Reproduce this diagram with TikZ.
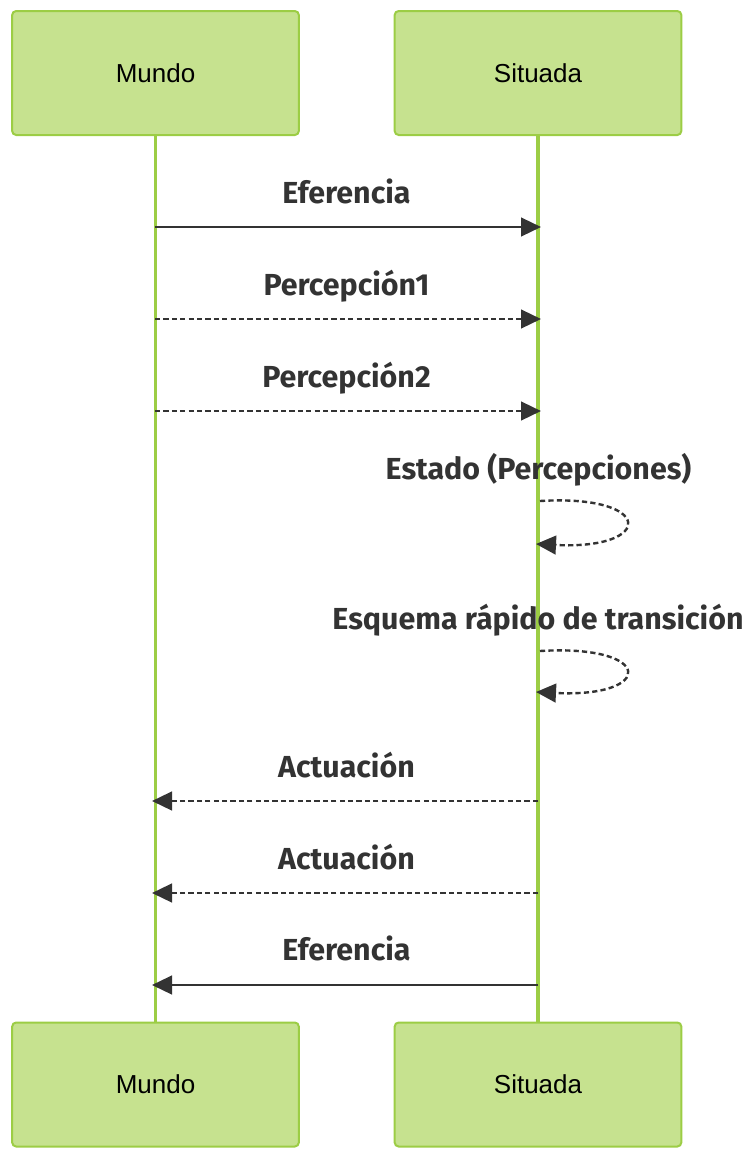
\documentclass[tikz,border=0pt]{standalone}
\usepackage{fontspec}
\setmainfont{Liberation Sans}
\newfontfamily\msgfont{Fira Sans}
\usepackage{tikz}
\usetikzlibrary{arrows.meta,positioning}
\definecolor{sqfill}{HTML}{C6E28F}
\definecolor{sqline}{HTML}{9CCD45}
\definecolor{sqink}{HTML}{333333}
\tikzset{
sqactor/.style={rectangle,rounded corners=3pt,draw=sqline,line width=1.5pt,fill=sqfill,align=center,inner sep=0pt,minimum width=215pt,minimum height=93pt,font=\fontsize{19.5}{23}\selectfont},
sqlife/.style={draw=sqline,line width=2.6pt},
sqmsg/.style={draw=sqink,line width=1.8pt,-{Triangle[length=15pt,width=14pt]},color=sqink},
sqreply/.style={sqmsg,dash pattern=on 3.9pt off 2.4pt},
sqlabel/.style={text=sqink,font=\msgfont\bfseries\fontsize{22.8}{27}\selectfont,inner sep=0pt,anchor=base}
}
\begin{document}
\begin{tikzpicture}[x=0.75pt,y=-0.75pt]
\useasboundingbox (0,0) rectangle (752,1157);
\node[sqactor] (mundoTop) at (155.5,73) {Mundo};
\node[sqactor] (situadaTop) at (538,73) {Situada};
\node[sqactor] (mundoBot) at (155.5,1084.5) {Mundo};
\node[sqactor] (situadaBot) at (538,1084.5) {Situada};
\draw[sqlife] (mundoTop.south) -- (mundoBot.north);
\draw[sqlife] (situadaTop.south) -- (situadaBot.north);
% message end points on the lifelines
\coordinate (mA) at (155,227);
\coordinate (sA) at (541,227);
\coordinate (mB) at (155,319);
\coordinate (sB) at (541,319);
\coordinate (mC) at (155,411);
\coordinate (sC) at (541,411);
\coordinate (loopAin) at (540,501);
\coordinate (loopAout) at (536,544);
\coordinate (loopBin) at (540,651);
\coordinate (loopBout) at (536,692);
\coordinate (sD) at (538,801);
\coordinate (mD) at (152,801);
\coordinate (sE) at (538,893);
\coordinate (mE) at (152,893);
\coordinate (sF) at (538,985);
\coordinate (mF) at (152,985);
\draw[sqmsg] (mA) -- (sA);
\node[sqlabel] (lblA) at (346.5,203) {Eferencia};
\draw[sqreply] (mB) -- (sB);
\node[sqlabel] (lblB) at (346.5,295) {Percepción1};
\draw[sqreply] (mC) -- (sC);
\node[sqlabel] (lblC) at (346.5,387) {Percepción2};
\draw[sqreply] (loopAin) .. controls (655,494) and (655,550) .. (loopAout);
\node[sqlabel] (lblLoopA) at (538.5,479) {Estado (Percepciones)};
\draw[sqreply] (loopBin) .. controls (655,644) and (655,698) .. (loopBout);
\node[sqlabel] (lblLoopB) at (538,629) {Esquema rápido de transición};
\draw[sqreply] (sD) -- (mD);
\node[sqlabel] (lblD) at (346.5,777) {Actuación};
\draw[sqreply] (sE) -- (mE);
\node[sqlabel] (lblE) at (346.5,869) {Actuación};
\draw[sqmsg] (sF) -- (mF);
\node[sqlabel] (lblF) at (346.5,960) {Eferencia};
\end{tikzpicture}
\end{document}
